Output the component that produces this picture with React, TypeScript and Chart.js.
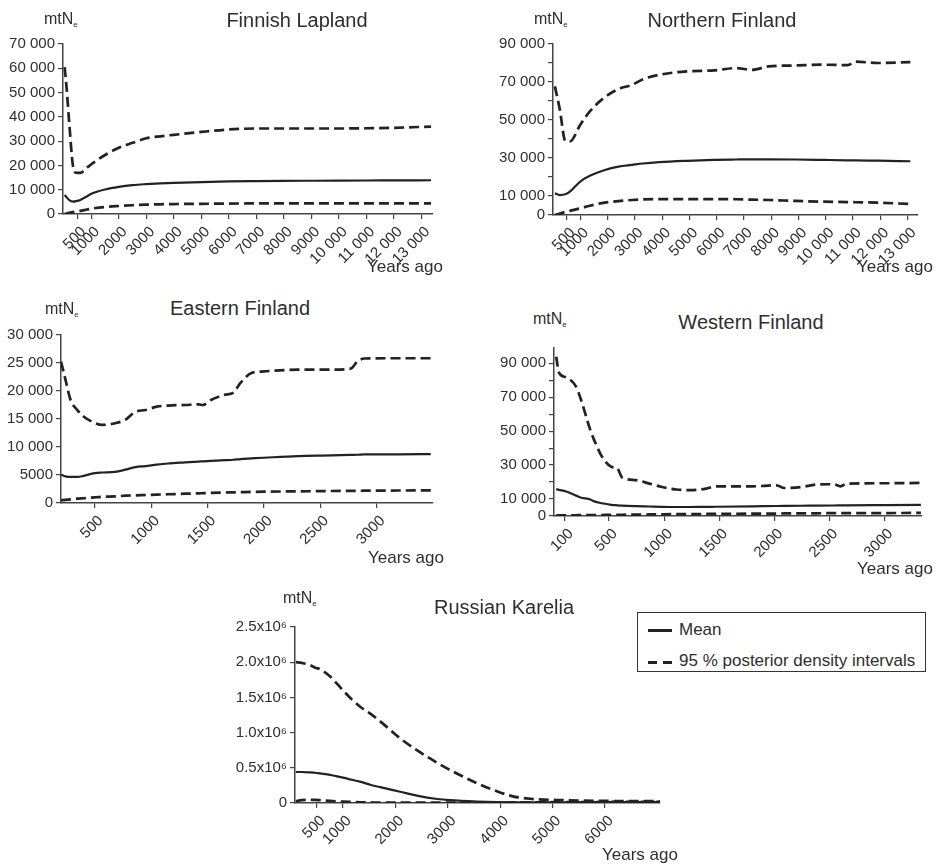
import React, { useEffect, useRef } from "react";
import { Chart, registerables } from "chart.js";

Chart.register(...registerables);

// ---------- Finnish Lapland ----------
const lapYears = [30, 100, 200, 330, 450, 600, 800, 1000, 1500, 2000, 2500, 3000, 3500, 4000, 5000, 6000, 7000, 8000, 9000, 10000, 11000, 12000, 13350];
const lapUpper = [60500, 52000, 37000, 20000, 17000, 16900, 18700, 20500, 24300, 27300, 29300, 31200, 32000, 32600, 33800, 34800, 35200, 35200, 35200, 35200, 35300, 35500, 36000];
const lapMean = [7800, 6900, 5700, 5100, 5300, 5800, 7000, 8300, 10100, 11200, 11900, 12300, 12600, 12800, 13100, 13400, 13550, 13650, 13700, 13750, 13800, 13850, 13900];
const lapLower = [0, 200, 450, 750, 1000, 1300, 1750, 2200, 2900, 3300, 3600, 3850, 4000, 4100, 4200, 4300, 4350, 4400, 4400, 4400, 4400, 4400, 4400];
const lapXTicks = [500, 1000, 2000, 3000, 4000, 5000, 6000, 7000, 8000, 9000, 10000, 11000, 12000, 13000];
const lapYTicks = [0, 10000, 20000, 30000, 40000, 50000, 60000, 70000];
const lapYLabels = [0, 10000, 20000, 30000, 40000, 50000, 60000, 70000];

// ---------- Northern Finland ----------
const nfYears = [70, 250, 450, 620, 1000, 1350, 1900, 2400, 2900, 3300, 3900, 4900, 5900, 6700, 7300, 7900, 8900, 9900, 10800, 11100, 11900, 13100];
const nfUpper = [67700, 55500, 39000, 38700, 47500, 54500, 62000, 66300, 68500, 71500, 73800, 75600, 76100, 77300, 76400, 78200, 78700, 79100, 78900, 80700, 80000, 80500];
const nfMean = [11400, 10500, 10900, 12300, 17600, 20600, 23700, 25500, 26400, 27100, 27800, 28500, 29000, 29200, 29300, 29300, 29200, 29000, 28800, 28700, 28600, 28300];
const nfLower = [0, 800, 1600, 2200, 3500, 4900, 6500, 7300, 7900, 8200, 8400, 8400, 8400, 8300, 8100, 7900, 7400, 7000, 6800, 6700, 6500, 5800];
const nfXTicks = [500, 1000, 2000, 3000, 4000, 5000, 6000, 7000, 8000, 9000, 10000, 11000, 12000, 13000];
const nfYTicks = [0, 10000, 20000, 30000, 40000, 50000, 60000, 70000, 80000, 90000];
const nfYLabels = [0, 10000, 30000, 50000, 70000, 90000];

// ---------- Eastern Finland ----------
const efYears = [200, 240, 285, 345, 400, 500, 565, 680, 770, 860, 950, 1050, 1150, 1300, 1420, 1460, 1530, 1650, 1730, 1790, 1890, 2000, 2300, 2600, 2770, 2830, 2890, 3200, 3480];
const efUpper = [25250, 22000, 18400, 16600, 15450, 14300, 13950, 14250, 14850, 16300, 16600, 17200, 17400, 17500, 17600, 17500, 18400, 19300, 19700, 21400, 23200, 23500, 23800, 23800, 24000, 25300, 25800, 25850, 25850];
const efMean = [5050, 4750, 4650, 4650, 4850, 5350, 5450, 5550, 5950, 6420, 6600, 6850, 7050, 7250, 7400, 7450, 7520, 7650, 7720, 7850, 7960, 8080, 8380, 8500, 8600, 8620, 8680, 8700, 8730];
const efLower = [475, 550, 650, 770, 850, 1010, 1100, 1190, 1300, 1370, 1430, 1500, 1560, 1660, 1720, 1750, 1800, 1870, 1900, 1930, 1980, 2020, 2080, 2140, 2170, 2180, 2200, 2230, 2260];
const efXTicks = [500, 1000, 1500, 2000, 2500, 3000];
const efYTicks = [0, 5000, 10000, 15000, 20000, 25000, 30000];
const efYLabels = [0, 5000, 10000, 15000, 20000, 25000, 30000];

// ---------- Western Finland ----------
const wfYears = [20, 45, 110, 200, 240, 330, 365, 435, 520, 575, 620, 745, 865, 980, 1110, 1230, 1380, 1470, 1800, 2020, 2090, 2250, 2380, 2540, 2600, 2660, 3000, 3330];
const wfUpper = [93900, 84500, 81700, 76200, 69500, 50600, 44700, 35000, 29000, 28000, 22600, 21100, 19100, 17100, 15600, 15200, 16100, 17500, 17500, 18100, 16500, 17100, 18500, 18700, 17500, 19100, 19300, 19500];
const wfMean = [15800, 15400, 14400, 12000, 10900, 9700, 8600, 7500, 6600, 6300, 6100, 5800, 5600, 5400, 5300, 5300, 5400, 5450, 5700, 5900, 5950, 6050, 6100, 6200, 6250, 6300, 6400, 6500];
const wfLower = [300, 350, 400, 450, 480, 500, 550, 600, 650, 700, 750, 800, 900, 1000, 1100, 1150, 1200, 1250, 1400, 1450, 1500, 1550, 1600, 1650, 1650, 1700, 1750, 1800];
const wfXTicks = [100, 500, 1000, 1500, 2000, 2500, 3000];
const wfYTicks = [0, 10000, 20000, 30000, 40000, 50000, 60000, 70000, 80000, 90000];
const wfYLabels = [0, 10000, 30000, 50000, 70000, 90000];

// ---------- Russian Karelia ----------
const krYears = [100, 210, 370, 470, 560, 750, 1000, 1170, 1340, 1520, 1710, 2090, 2410, 2800, 3040, 3560, 3940, 4240, 4570, 5200, 6000, 7050];
const krUpper = [2000000, 1990000, 1960000, 1920000, 1900000, 1800000, 1600000, 1470000, 1360000, 1270000, 1160000, 920000, 750000, 570000, 470000, 280000, 166000, 95000, 60000, 40000, 30000, 25000];
const krMean = [440000, 440000, 435000, 430000, 420000, 400000, 360000, 330000, 300000, 260000, 225000, 160000, 105000, 57000, 40000, 20000, 12000, 10000, 10000, 10000, 12000, 14000];
const krLower = [25000, 40000, 45000, 45000, 40000, 30000, 20000, 15000, 10000, 8000, 6000, 5000, 5000, 5000, 5000, 5000, 6000, 8000, 10000, 12000, 15000, 18000];
const krXTicks = [500, 1000, 2000, 3000, 4000, 5000, 6000];
const krYTicks = [0, 500000, 1000000, 1500000, 2000000, 2500000];
const krYLabels = [0, 500000, 1000000, 1500000, 2000000, 2500000];

const FONT = "'Liberation Sans', Arial, Helvetica, sans-serif";
const INK = "#222";
const TXT = "#2e2e2e";

const fmtSpace = (v: number) => {
  if (v >= 10000) {
    const th = Math.floor(v / 1000);
    const rest = String(v % 1000).padStart(3, "0");
    return `${th} ${rest}`;
  }
  return String(v);
};
const fmtMillion = (v: number) => (v === 0 ? "0" : `${(v / 1e6).toFixed(1)}x10\u2076`);

type Area = { l: number; t: number; r: number; b: number };
type PanelCfg = {
  title: string;
  years: number[];
  mean: number[];
  upper: number[];
  lower: number[];
  xTicks: number[];
  yTicks: number[];
  yLabels: number[];
  xMin: number;
  xMax: number;
  yMax: number;
  yFmt: (v: number) => string;
  area: Area;
  titlePos: [number, number];
  unitPos: [number, number];
  agoPos: [number, number];
};

const panels: PanelCfg[] = [
  {
    title: "Finnish Lapland", years: lapYears, mean: lapMean, upper: lapUpper, lower: lapLower,
    xTicks: lapXTicks, yTicks: lapYTicks, yLabels: lapYLabels, xMin: -30, xMax: 13420, yMax: 70000, yFmt: fmtSpace,
    area: { l: 63, t: 44, r: 433, b: 214 }, titlePos: [297, 20], unitPos: [44, 19], agoPos: [367, 267],
  },
  {
    title: "Northern Finland", years: nfYears, mean: nfMean, upper: nfUpper, lower: nfLower,
    xTicks: nfXTicks, yTicks: nfYTicks, yLabels: nfYLabels, xMin: 0, xMax: 13380, yMax: 90000, yFmt: fmtSpace,
    area: { l: 553, t: 44, r: 918, b: 215 }, titlePos: [722, 20], unitPos: [534, 19], agoPos: [857, 267],
  },
  {
    title: "Eastern Finland", years: efYears, mean: efMean, upper: efUpper, lower: efLower,
    xTicks: efXTicks, yTicks: efYTicks, yLabels: efYLabels, xMin: 200, xMax: 3500, yMax: 30000, yFmt: fmtSpace,
    area: { l: 61, t: 335, r: 433, b: 503 }, titlePos: [240, 308], unitPos: [45, 309], agoPos: [368, 558],
  },
  {
    title: "Western Finland", years: wfYears, mean: wfMean, upper: wfUpper, lower: wfLower,
    xTicks: wfXTicks, yTicks: wfYTicks, yLabels: wfYLabels, xMin: 0, xMax: 3340, yMax: 99000, yFmt: fmtSpace,
    area: { l: 554, t: 348, r: 922, b: 516 }, titlePos: [751, 322], unitPos: [533, 319], agoPos: [857, 569],
  },
  {
    title: "Russian Karelia", years: krYears, mean: krMean, upper: krUpper, lower: krLower,
    xTicks: krXTicks, yTicks: krYTicks, yLabels: krYLabels, xMin: 84, xMax: 7050, yMax: 2500000, yFmt: fmtMillion,
    area: { l: 295, t: 627, r: 660, b: 803 }, titlePos: [504, 607], unitPos: [283, 598], agoPos: [602, 855],
  },
];

const Y_W = 60;
const PAD_T = 14;
const X_H = 58;
const PAD_R = 12;

function Panel({ cfg }: { cfg: PanelCfg }) {
  const ref = useRef<HTMLCanvasElement | null>(null);
  const { l, t, r, b } = cfg.area;
  const w = r - l + Y_W + PAD_R;
  const h = b - t + PAD_T + X_H;

  useEffect(() => {
    if (!ref.current) return;
    const pts = (ys: number[]) => cfg.years.map((x, i) => ({ x, y: ys[i] }));
    const tickFont = { family: FONT, size: 15 };
    const chart = new Chart(ref.current, {
      type: "line",
      data: {
        datasets: [
          {
            label: "Mean", data: pts(cfg.mean), borderColor: INK, borderWidth: 2.2,
            pointRadius: 0, cubicInterpolationMode: "monotone", fill: false,
          },
          {
            label: "Upper 95 %", data: pts(cfg.upper), borderColor: INK, borderWidth: 2.7,
            borderDash: [10, 5], pointRadius: 0, cubicInterpolationMode: "monotone", fill: false,
          },
          {
            label: "Lower 95 %", data: pts(cfg.lower), borderColor: INK, borderWidth: 2.7,
            borderDash: [10, 5], pointRadius: 0, cubicInterpolationMode: "monotone", fill: false,
          },
        ],
      },
      options: {
        responsive: false,
        animation: false,
        maintainAspectRatio: false,
        layout: { padding: { top: PAD_T, right: PAD_R, bottom: 0, left: 0 } },
        plugins: { legend: { display: false }, tooltip: { enabled: false }, title: { display: false } },
        scales: {
          x: {
            type: "linear",
            min: cfg.xMin,
            max: cfg.xMax,
            afterFit: (s: any) => { s.height = X_H; },
            afterBuildTicks: (s: any) => { s.ticks = cfg.xTicks.map((v) => ({ value: v })); },
            ticks: {
              autoSkip: false, minRotation: 45, maxRotation: 45, padding: 4, labelOffset: 6,
              color: TXT, font: tickFont,
              callback: (v: any) => fmtSpace(Number(v)),
            },
            grid: { display: true, drawOnChartArea: false, drawTicks: true, tickLength: 5, color: "#444", lineWidth: 1.2 },
            border: { display: true, color: "#444", width: 1.5 },
          },
          y: {
            type: "linear",
            min: 0,
            max: cfg.yMax,
            afterFit: (s: any) => { s.width = Y_W; },
            afterBuildTicks: (s: any) => { s.ticks = cfg.yTicks.map((v) => ({ value: v })); },
            ticks: {
              autoSkip: false, padding: 3, color: TXT, font: tickFont,
              callback: (v: any) => (cfg.yLabels.includes(Number(v)) ? cfg.yFmt(Number(v)) : ""),
            },
            grid: { display: true, drawOnChartArea: false, drawTicks: true, tickLength: 5, color: "#444", lineWidth: 1.2 },
            border: { display: true, color: "#444", width: 1.5 },
          },
        },
      },
    } as any);
    return () => chart.destroy();
  }, []);

  const [tx, ty] = cfg.titlePos;
  const [ux, uy] = cfg.unitPos;
  const [ax, ay] = cfg.agoPos;

  return (
    <>
      <canvas
        ref={ref}
        width={w}
        height={h}
        style={{ position: "absolute", left: l - Y_W, top: t - PAD_T, width: w, height: h }}
      />
      <div
        style={{
          position: "absolute", left: tx - 150, top: ty - 11, width: 300, textAlign: "center",
          fontFamily: FONT, fontSize: 20, lineHeight: "22px", color: TXT, whiteSpace: "nowrap",
        }}
      >
        {cfg.title}
      </div>
      <div
        style={{
          position: "absolute", left: ux, top: uy - 9, fontFamily: FONT, fontSize: 16,
          lineHeight: "18px", color: TXT, whiteSpace: "nowrap",
        }}
      >
        mtN<span style={{ fontSize: 8, verticalAlign: "-3px" }}>e</span>
      </div>
      <div
        style={{
          position: "absolute", left: ax, top: ay - 10, fontFamily: FONT, fontSize: 17,
          lineHeight: "20px", color: TXT, whiteSpace: "nowrap",
        }}
      >
        Years ago
      </div>
    </>
  );
}

function Legend() {
  const seg = (left: number, top: number, width: number) => (
    <div style={{ position: "absolute", left, top, width, height: 3, background: INK }} />
  );
  return (
    <div
      style={{
        position: "absolute", left: 637, top: 612, width: 289, height: 60,
        border: "1px solid #333", boxSizing: "border-box", background: "#fff",
      }}
    >
      {seg(10, 16, 24)}
      <div style={{ position: "absolute", left: 41, top: 7, fontFamily: FONT, fontSize: 17, lineHeight: "20px", color: TXT }}>
        Mean
      </div>
      {seg(10, 48, 9)}
      {seg(25, 48, 9)}
      <div style={{ position: "absolute", left: 41, top: 38, fontFamily: FONT, fontSize: 17, lineHeight: "20px", color: TXT, whiteSpace: "nowrap" }}>
        95 % posterior density intervals
      </div>
    </div>
  );
}

export default function App() {
  return (
    <div style={{ position: "absolute", left: 0, top: 0, width: 940, height: 866, background: "#fff", overflow: "hidden" }}>
      {panels.map((p) => (
        <Panel key={p.title} cfg={p} />
      ))}
      <Legend />
    </div>
  );
}
